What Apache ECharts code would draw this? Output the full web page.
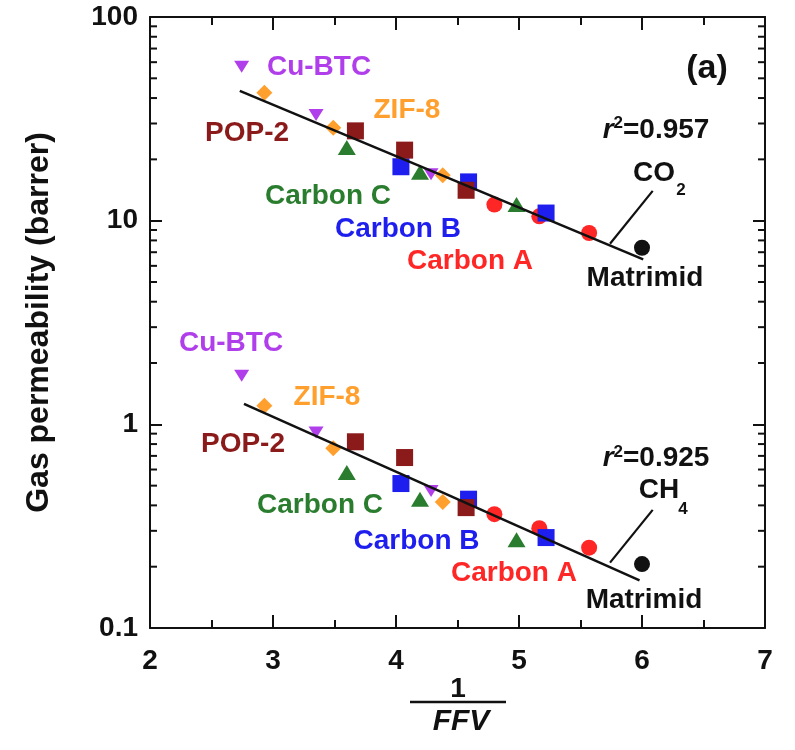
<!DOCTYPE html>
<html><head><meta charset="utf-8">
<script src="https://cdn.jsdelivr.net/npm/echarts@6/dist/echarts.min.js"></script>
<style>html,body{margin:0;padding:0;background:#fff}#c{width:795px;height:750px}</style>
</head><body><div id="c"></div>
<script>
// ---------------- data ----------------
const cuBtcFfv = [2.745, 3.35, 4.285];
const cuBtcCo2 = [57, 33.0, 16.9];
const cuBtcCh4 = [1.73, 0.912, 0.471];

const zif8Ffv = [2.93, 3.49, 4.38];
const zif8Co2 = [42.5, 28.6, 16.7];
const zif8Ch4 = [1.235, 0.764, 0.416];

const pop2Ffv = [3.67, 4.07, 4.57];
const pop2Co2 = [27.6, 22.2, 14.1];
const pop2Ch4 = [0.821, 0.687, 0.390];

const carbonBFfv = [4.04, 4.59, 5.22];
const carbonBCo2 = [18.4, 15.5, 10.9];
const carbonBCh4 = [0.512, 0.429, 0.278];

const carbonCFfv = [3.60, 4.195, 4.98];
const carbonCCo2 = [22.9, 17.3, 12.0];
const carbonCCh4 = [0.58, 0.429, 0.271];

const carbonAFfv = [4.80, 5.165, 5.57];
const carbonACo2 = [12.0, 10.5, 8.7];
const carbonACh4 = [0.362, 0.309, 0.248];

const matrimidFfv = [6.0];
const matrimidCo2 = [7.36];
const matrimidCh4 = [0.206];

// regression lines (end points) and leader lines
const co2FitFfv = [2.73, 6.01];
const co2FitPerm = [43.4, 6.46];
const ch4FitFfv = [2.764, 5.98];
const ch4FitPerm = [1.26, 0.1714];
const co2LeaderFfv = [5.74, 6.087];
const co2LeaderPerm = [7.7, 14.0];
const ch4LeaderFfv = [5.74, 6.087];
const ch4LeaderPerm = [0.2095, 0.380];

// axis ticks
const xTickLabels = ['2', '3', '4', '5', '6', '7'];
const yTickLabels = ['0.1', '1', '10', '100'];
const yMinorTicks = [0.2, 0.3, 0.4, 0.5, 0.6, 0.7, 0.8, 0.9,
                     2, 3, 4, 5, 6, 7, 8, 9,
                     20, 30, 40, 50, 60, 70, 80, 90];

// ---------------- styles ----------------
const FONT = '"Liberation Sans", Arial, Helvetica, sans-serif';
const INK = '#111';
const C = {
  cu: '#B03EEB', zif: '#FFA02E', pop: '#8B1A1A',
  cb: '#1E1EEE', cc: '#2A7D2E', ca: '#FF2626', mat: '#111'
};

// text annotations: [text(rich), ffv, perm, color]
const annotations = [
  ['Cu-BTC', 3.374, 56.95, C.cu], ['ZIF-8', 4.089, 34.88, C.zif],
  ['POP-2', 2.789, 26.88, C.pop], ['Carbon C', 3.447, 13.17, C.cc],
  ['Carbon B', 4.016, 9.06, C.cb], ['Carbon A', 4.602, 6.31, C.ca],
  ['Matrimid', 6.024, 5.20, INK],
  ['Cu-BTC', 2.659, 2.50, C.cu], ['ZIF-8', 3.439, 1.352, C.zif],
  ['POP-2', 2.756, 0.794, C.pop], ['Carbon C', 3.382, 0.4023, C.cc],
  ['Carbon B', 4.167, 0.2677, C.cb], ['Carbon A', 4.959, 0.1852, C.ca],
  ['Matrimid', 6.016, 0.1364, INK],
  ['{r|r}{s|2}{t|=0.957}', 6.114, 27.8, INK],
  ['{r|r}{s|2}{t|=0.925}', 6.114, 0.678, INK],
  ['CO', 6.098, 17.18, INK], ['{sub|2}', 6.317, 14.09, INK],
  ['CH', 6.138, 0.474, INK], ['{sub|4}', 6.333, 0.3846, INK],
  ['{big|(a)}', 6.528, 56.1, INK]
];

const zip = (xs, ys) => xs.map((x, i) => [x, ys[i]]);

function scatter(name, xs, co2, ch4, symbol, size, color, rotate, z) {
  return {
    name, type: 'scatter', symbol, symbolSize: size, symbolRotate: rotate || 0,
    itemStyle: { color, opacity: 1 }, z: z,
    data: zip(xs, co2).concat(zip(xs, ch4)), silent: true
  };
}
function line(xs, ys, width) {
  return {
    type: 'line', data: zip(xs, ys), showSymbol: false, symbol: 'none',
    lineStyle: { color: INK, width: width }, z: 20, silent: true, animation: false
  };
}

const chart = echarts.init(document.getElementById('c'), null, { renderer: 'canvas' });

const axisLineStyle = { color: INK, width: 2 };
const richBase = { fontWeight: 'bold', fontFamily: FONT, opacity: 1, textBorderWidth: 0 };
const option = {
  animation: false,
  backgroundColor: '#fff',
  grid: { left: 150, right: 30, top: 17, bottom: 122, containLabel: false },
  xAxis: [
    {
      type: 'value', min: 2, max: 7, interval: 1,
      axisLine: { show: true, onZero: false, lineStyle: axisLineStyle },
      axisTick: { show: true, inside: true, length: 13, lineStyle: { color: INK, width: 2 } },
      minorTick: { show: true, splitNumber: 2, length: 8, lineStyle: { color: INK, width: 2 } },
      splitLine: { show: false },
      axisLabel: {
        margin: 19, fontSize: 28, fontWeight: 'bold', color: INK, fontFamily: FONT,
        formatter: v => xTickLabels[Math.round(v) - 2]
      }
    },
    {
      type: 'value', position: 'top', min: 2, max: 7, interval: 1,
      axisLine: { show: true, onZero: false, lineStyle: axisLineStyle },
      axisTick: { show: true, inside: true, length: 13, lineStyle: { color: INK, width: 2 } },
      minorTick: { show: true, splitNumber: 2, length: 8, lineStyle: { color: INK, width: 2 } },
      splitLine: { show: false }, axisLabel: { show: false }
    }
  ],
  yAxis: [
    {
      type: 'log', logBase: 10, min: 0.1, max: 100, splitNumber: 3,
      name: 'Gas permeability (barrer)', nameLocation: 'middle', nameGap: 95,
      nameTextStyle: { fontSize: 32, fontWeight: 'bold', color: INK, fontFamily: FONT },
      axisLine: { show: true, onZero: false, lineStyle: axisLineStyle },
      axisTick: { show: true, inside: true, length: 12, lineStyle: { color: INK, width: 2 } },
      minorTick: { show: false },
      splitLine: { show: false },
      axisLabel: {
        margin: 12, fontSize: 28, fontWeight: 'bold', color: INK, fontFamily: FONT,
        formatter: v => yTickLabels[Math.round(Math.log10(v)) + 1]
      }
    },
    {
      type: 'log', logBase: 10, min: 0.1, max: 100, splitNumber: 3, position: 'right',
      axisLine: { show: true, onZero: false, lineStyle: axisLineStyle },
      axisTick: { show: true, inside: true, length: 12, lineStyle: { color: INK, width: 2 } },
      minorTick: { show: false }, splitLine: { show: false }, axisLabel: { show: false }
    }
  ],
  series: [
    // minor log ticks on left and right axes
    {
      type: 'custom', silent: true, z: 30, clip: false,
      data: yMinorTicks.map(v => [2, v]),
      renderItem: function (params, api) {
        const p = api.coord([2, api.value(1)]);
        const cs = params.coordSys;
        const st = { stroke: INK, lineWidth: 2 };
        return {
          type: 'group', children: [
            { type: 'line', shape: { x1: cs.x, y1: p[1], x2: cs.x + 7, y2: p[1] }, style: st },
            { type: 'line', shape: { x1: cs.x + cs.width, y1: p[1], x2: cs.x + cs.width - 7, y2: p[1] }, style: st }
          ]
        };
      }
    },
    scatter('Carbon A', carbonAFfv, carbonACo2, carbonACh4, 'circle', 16, C.ca, 0, 2),
    scatter('Carbon B', carbonBFfv, carbonBCo2, carbonBCh4, 'rect', 17, C.cb, 0, 3),
    scatter('Carbon C', carbonCFfv, carbonCCo2, carbonCCh4, 'triangle', [18, 15], C.cc, 0, 4),
    scatter('Cu-BTC', cuBtcFfv, cuBtcCo2, cuBtcCh4, 'triangle', [15, 12], C.cu, 180, 5),
    scatter('ZIF-8', zif8Ffv, zif8Co2, zif8Ch4, 'diamond', [16, 16], C.zif, 0, 6),
    scatter('POP-2', pop2Ffv, pop2Co2, pop2Ch4, 'rect', 17, C.pop, 0, 7),
    scatter('Matrimid', matrimidFfv, matrimidCo2, matrimidCh4, 'circle', 16, C.mat, 0, 8),
    line(co2FitFfv, co2FitPerm, 2.5),
    line(ch4FitFfv, ch4FitPerm, 2.5),
    line(co2LeaderFfv, co2LeaderPerm, 2.2),
    line(ch4LeaderFfv, ch4LeaderPerm, 2.2),
    // text annotations
    {
      type: 'scatter', symbolSize: 0, silent: true, z: 40,
      itemStyle: { opacity: 1 },
      data: annotations.map(a => ({
        value: [a[1], a[2]],
        label: { color: a[3] }
      })),
      label: {
        show: true, position: 'inside', opacity: 1, textBorderWidth: 0,
        fontSize: 28, fontWeight: 'bold', fontFamily: FONT,
        formatter: p => annotations[p.dataIndex][0],
        rich: {
          r: Object.assign({ fontSize: 28, fontStyle: 'italic', lineHeight: 30, verticalAlign: 'middle' }, richBase),
          s: Object.assign({ fontSize: 17, lineHeight: 17, verticalAlign: 'top' }, richBase),
          t: Object.assign({ fontSize: 28, lineHeight: 30, verticalAlign: 'middle' }, richBase),
          sub: Object.assign({ fontSize: 17 }, richBase),
          big: Object.assign({ fontSize: 34 }, richBase)
        }
      }
    }
  ],
  graphic: [
    { type: 'text', x: 458, y: 689, style: { text: '1', fontSize: 28, fontWeight: 'bold', fontFamily: FONT, fill: INK, align: 'center', verticalAlign: 'middle' } },
    { type: 'line', shape: { x1: 410, y1: 702, x2: 506, y2: 702 }, style: { stroke: INK, lineWidth: 2.5 } },
    { type: 'text', x: 461, y: 722, style: { text: 'FFV', fontSize: 30, fontWeight: 'bold', fontStyle: 'italic', fontFamily: FONT, fill: INK, align: 'center', verticalAlign: 'middle' } }
  ]
};
chart.setOption(option);
</script>
</body></html>
